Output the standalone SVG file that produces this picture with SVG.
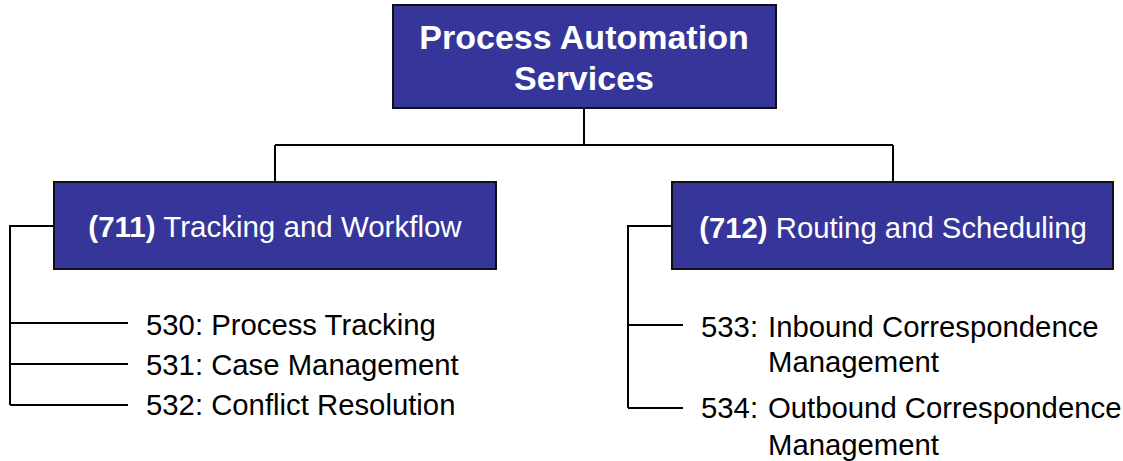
<svg xmlns="http://www.w3.org/2000/svg" width="1123" height="461" viewBox="0 0 1123 461">
<style>
.box{fill:#35359A;stroke:#111;stroke-width:2}
.bt{font-family:"Liberation Sans",Arial,sans-serif;fill:#fff;text-anchor:middle}
.lbl{font-family:"Liberation Sans",Arial,sans-serif;fill:#000;font-size:29.3px}
.ln{fill:none;stroke:#000;stroke-width:2}
</style>
<rect width="1123" height="461" fill="#fff"/>
<g id="connectors">
<path class="ln" d="M584 108V145M275 145H893M275 145V182M893 145V182"/>
<path class="ln" d="M54 226H10V405M10 323H128M10 364H128M10 405H128"/>
<path class="ln" d="M672 226H628V408M628 325H683M628 408H683"/>
</g>
<g id="root">
<rect class="box" x="393" y="5" width="383" height="103"/>
<text class="bt" x="584" y="49" font-size="34" font-weight="bold">Process Automation</text>
<text class="bt" x="584" y="90" font-size="34" font-weight="bold">Services</text>
</g>
<g id="n711">
<rect class="box" x="54" y="182" width="442" height="87"/>
<text class="bt" x="275" y="237" font-size="29.5"><tspan font-weight="bold">(711)</tspan> Tracking and Workflow</text>
</g>
<g id="n712">
<rect class="box" x="672" y="182" width="441" height="87"/>
<text class="bt" x="893" y="238" font-size="29.3"><tspan font-weight="bold">(712)</tspan> Routing and Scheduling</text>
</g>
<g id="l530"><text class="lbl" x="146" y="335">530: Process Tracking</text></g>
<g id="l531"><text class="lbl" x="146" y="375">531: Case Management</text></g>
<g id="l532"><text class="lbl" x="146" y="415">532: Conflict Resolution</text></g>
<g id="l533"><text class="lbl" x="701" y="337">533: <tspan x="768">Inbound Correspondence</tspan></text><text class="lbl" x="768" y="372">Management</text></g>
<g id="l534"><text class="lbl" x="701" y="418">534: <tspan x="768">Outbound Correspondence</tspan></text><text class="lbl" x="768" y="455">Management</text></g>
</svg>
